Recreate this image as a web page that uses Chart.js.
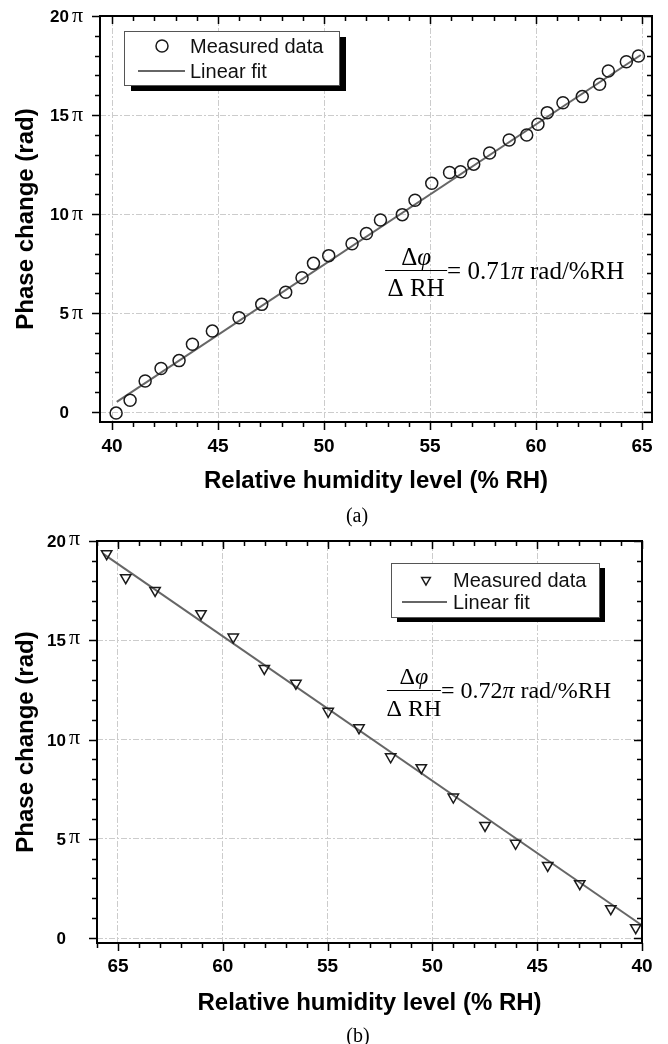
<!DOCTYPE html>
<html>
<head>
<meta charset="utf-8">
<script src="https://cdn.jsdelivr.net/npm/chart.js@4.4.1/dist/chart.umd.min.js"></script>
<style>
    body { margin: 0; background: #fff; }
    #page { position: relative; width: 668px; height: 1044px; background: #fff; }
    canvas { position: absolute; left: 0; }
    .cap { position: absolute; width: 100px; text-align: center; line-height: 24px;
           font-family: 'Liberation Serif', 'Times New Roman', serif; font-size: 20px; color: #000; }
</style>
</head>
<body>
<div id="page">
    <canvas id="chartA" width="668" height="530" style="top:0"></canvas>
    <div class="cap" style="left:307px; top:503px">(a)</div>
    <canvas id="chartB" width="668" height="514" style="top:530px"></canvas>
    <div class="cap" style="left:308px; top:1023px">(b)</div>
</div>
<script>
// (a) humidity going up
var rhA = [40.19, 40.85, 41.56, 42.31, 43.16, 43.79, 44.73, 45.99, 47.06, 48.19, 48.96,
           49.50, 50.22, 51.32, 52.00, 52.66, 53.69, 54.29, 55.08, 55.92, 56.44, 57.06,
           57.81, 58.73, 59.56, 60.09, 60.53, 61.27, 62.18, 63.00, 63.41, 64.26, 64.83];
var phaseA = [-0.05, 0.60, 1.57, 2.20, 2.60, 3.43, 4.09, 4.76, 5.44, 6.05, 6.78,
              7.51, 7.90, 8.50, 9.02, 9.70, 9.97, 10.70, 11.55, 12.10, 12.14, 12.52,
              13.08, 13.74, 13.99, 14.53, 15.12, 15.62, 15.93, 16.55, 17.22, 17.69, 17.98];
var fitRhA = [40.22, 64.94];
var fitPhaseA = [0.52, 18.03];
var slopeA = '0.71';

// (b) humidity going down
var rhB = [65.54, 64.63, 63.23, 61.04, 59.50, 58.02, 56.51, 54.97, 53.50,
           51.99, 50.53, 49.00, 47.49, 46.03, 44.50, 42.97, 41.49, 40.30];
var phaseB = [19.36, 18.15, 17.51, 16.34, 15.16, 13.58, 12.83, 11.42, 10.59,
              9.13, 8.58, 7.10, 5.67, 4.77, 3.66, 2.74, 1.48, 0.52];
var fitRhB = [65.70, 40.06];
var fitPhaseB = [19.35, 0.68];
var slopeB = '0.72';

var majorX = [40, 45, 50, 55, 60, 65];
var majorY = [0, 5, 10, 15, 20];   // in units of pi

var SANS = "'Liberation Sans', Arial, sans-serif";
var SERIF = "'Liberation Serif', 'Times New Roman', serif";

function toPoints(xs, ys) {
    return xs.map(function (v, i) { return { x: v, y: ys[i] }; });
}

function drawRuns(ctx, runs, x, y, align) {
    var total = 0;
    runs.forEach(function (r) { ctx.font = r[1]; total += ctx.measureText(r[0]).width; });
    var cx = align === 'center' ? x - total / 2 : x;
    ctx.textAlign = 'left';
    runs.forEach(function (r) {
        ctx.font = r[1];
        ctx.fillText(r[0], cx, y);
        cx += ctx.measureText(r[0]).width;
    });
}

// frame, minor ticks, pi tick labels, shadow legend and the slope formula
var decorPlugin = {
    id: 'decor',
    afterDatasetsDraw: function (chart, args, opts) {
        var ctx = chart.ctx, a = chart.chartArea;
        var x = chart.scales.x, y = chart.scales.y;
        ctx.save();

        ctx.strokeStyle = '#000';
        ctx.lineWidth = 1.5;
        ctx.beginPath();
        for (var v = Math.ceil(x.min); v <= x.max; v++) {
            var px = Math.round(x.getPixelForValue(v)) + 0.5;
            var len = v % 5 === 0 ? 8 : 5;
            ctx.moveTo(px, a.bottom); ctx.lineTo(px, a.bottom + len);
            ctx.moveTo(px, a.top); ctx.lineTo(px, a.top + len);
        }
        for (var w = Math.ceil(y.min); w <= y.max; w++) {
            var py = Math.round(y.getPixelForValue(w)) + 0.5;
            var l2 = w % 5 === 0 ? 8 : 5;
            ctx.moveTo(a.left, py); ctx.lineTo(a.left - l2, py);
            ctx.moveTo(a.right, py); ctx.lineTo(a.right - l2, py);
        }
        ctx.stroke();
        ctx.lineWidth = 2;
        ctx.strokeRect(a.left, a.top, a.right - a.left, a.bottom - a.top);

        // y labels: bold number + serif pi
        ctx.fillStyle = '#000';
        ctx.textBaseline = 'alphabetic';
        majorY.forEach(function (v) {
            var py = y.getPixelForValue(v) + 6;
            ctx.font = 'bold 17px ' + SANS;
            ctx.textAlign = 'right';
            ctx.fillText(String(v), a.left - 31, py);
            if (v !== 0) {
                ctx.font = '22px ' + SERIF;
                ctx.textAlign = 'left';
                ctx.fillText('\u03C0', a.left - 28, py - opts.piRaise);
            }
        });

        // legend box with black shadow
        var L = opts.legend;
        var bx = a.left + L.x, by = a.top + L.y;
        ctx.fillStyle = '#000';
        ctx.fillRect(bx + L.shadow[0], by + L.shadow[1], L.w, L.h);
        ctx.fillStyle = '#fff';
        ctx.fillRect(bx, by, L.w, L.h);
        ctx.strokeStyle = '#555';
        ctx.lineWidth = 1;
        ctx.strokeRect(bx + 0.5, by + 0.5, L.w, L.h);

        var ds0 = chart.data.datasets[0], ds1 = chart.data.datasets[1];
        ctx.strokeStyle = ds0.borderColor;
        ctx.fillStyle = 'rgba(0,0,0,0)';
        ctx.lineWidth = ds0.borderWidth;
        Chart.helpers.drawPoint(ctx, {
            pointStyle: ds0.pointStyle, rotation: ds0.pointRotation || 0,
            radius: L.markerSize, borderWidth: ds0.borderWidth
        }, bx + L.marker, by + L.row1);
        ctx.strokeStyle = ds1.borderColor;
        ctx.lineWidth = ds1.borderWidth;
        ctx.beginPath();
        ctx.moveTo(bx + L.line[0], by + L.row2);
        ctx.lineTo(bx + L.line[1], by + L.row2);
        ctx.stroke();
        ctx.fillStyle = '#111';
        ctx.font = '20px ' + SANS;
        ctx.textAlign = 'left';
        ctx.textBaseline = 'middle';
        ctx.fillText(ds0.label, bx + L.text, by + L.row1 + 1);
        ctx.fillText(ds1.label, bx + L.text, by + L.row2 + 1);

        // d(phi)/d(RH) = slope
        var F = opts.formula;
        var fx = x.getPixelForValue(F.x), fy = Math.round(y.getPixelForValue(F.y)) + 0.5;
        var up = F.size + 'px ' + SERIF, it = 'italic ' + F.size + 'px ' + SERIF;
        ctx.strokeStyle = '#000';
        ctx.lineWidth = 1.2;
        ctx.beginPath();
        ctx.moveTo(fx, fy); ctx.lineTo(fx + F.bar, fy);
        ctx.stroke();
        ctx.fillStyle = '#000';
        ctx.textBaseline = 'alphabetic';
        drawRuns(ctx, [['\u0394', up], ['\u03C6', it]], fx + F.bar / 2, fy - F.num, 'center');
        drawRuns(ctx, [['\u0394 RH', up]], fx + F.bar / 2, fy + F.den, 'center');
        drawRuns(ctx, [['= ' + F.value, up], ['\u03C0', it], [' rad/%RH', up]], fx + F.bar, fy + F.main, 'left');

        ctx.restore();
    }
};

function makeChart(id, c) {
    var ctx = document.getElementById(id).getContext('2d');
    return new Chart(ctx, {
        type: 'scatter',
        data: {
            datasets: [{
                label: 'Measured data',
                data: toPoints(c.xs, c.ys),
                pointStyle: c.pointStyle,
                pointRotation: c.rotation,
                pointRadius: c.radius,
                pointHoverRadius: c.radius,
                borderColor: '#1a1a1a',
                borderWidth: 1.5,
                backgroundColor: 'rgba(0,0,0,0)'
            }, {
                type: 'line',
                label: 'Linear fit',
                data: toPoints(c.fitX, c.fitY),
                borderColor: '#666666',
                borderWidth: 2,
                pointRadius: 0,
                fill: false
            }]
        },
        options: {
            responsive: false,
            animation: false,
            layout: { padding: c.padding },
            plugins: {
                legend: { display: false },
                tooltip: { enabled: false },
                decor: c.decor
            },
            scales: {
                x: {
                    type: 'linear',
                    min: c.xMin, max: c.xMax, reverse: c.reverse,
                    afterBuildTicks: function (s) { s.ticks = majorX.map(function (v) { return { value: v }; }); },
                    afterFit: function (s) { s.height = c.xHeight; },
                    ticks: {
                        padding: c.xTickPad, color: '#000',
                        font: { family: SANS, size: 19, weight: 'bold' },
                        callback: function (v) { return String(v); }
                    },
                    grid: { color: '#cccccc', lineWidth: 1, drawTicks: false },
                    border: { display: false, dash: [6, 2, 2, 2] },
                    title: {
                        display: true, text: 'Relative humidity level (% RH)', color: '#000',
                        font: { family: SANS, size: 24, weight: 'bold' },
                        padding: { top: 0, bottom: c.xTitlePad }
                    }
                },
                y: {
                    type: 'linear',
                    min: c.yMin, max: 20,
                    afterBuildTicks: function (s) { s.ticks = majorY.map(function (v) { return { value: v }; }); },
                    afterFit: function (s) { s.width = c.yWidth; },
                    ticks: { display: false },
                    grid: { color: '#cccccc', lineWidth: 1, drawTicks: false },
                    border: { display: false, dash: [6, 2, 2, 2] },
                    title: {
                        display: true, text: 'Phase change (rad)', color: '#000',
                        font: { family: SANS, size: 24, weight: 'bold' },
                        padding: { top: 12, bottom: 0 }
                    }
                }
            }
        },
        plugins: [decorPlugin]
    });
}

var chartA = makeChart('chartA', {
    xs: rhA, ys: phaseA, fitX: fitRhA, fitY: fitPhaseA,
    pointStyle: 'circle', rotation: 0, radius: 6,
    xMin: 39.43, xMax: 65.47, reverse: false, yMin: -0.5,
    padding: { top: 16, right: 16, bottom: 28, left: 0 },
    xHeight: 80, yWidth: 100, xTickPad: 13, xTitlePad: 6,
    decor: {
        piRaise: 0,
        legend: { x: 24, y: 15, w: 215, h: 54, shadow: [7, 6], marker: 38, markerSize: 6, text: 66, line: [14, 61], row1: 15, row2: 40 },
        formula: { x: 52.88, y: 7.17, bar: 62, size: 25, num: 6, den: 25, main: 8, value: slopeA }
    }
});

var chartB = makeChart('chartB', {
    xs: rhB, ys: phaseB, fitX: fitRhB, fitY: fitPhaseB,
    pointStyle: 'triangle', rotation: 180, radius: 6,
    xMin: 40, xMax: 66, reverse: true, yMin: -0.25,
    padding: { top: 11, right: 26, bottom: 26, left: 0 },
    xHeight: 75, yWidth: 97, xTickPad: 12, xTitlePad: 0,
    decor: {
        piRaise: 2,
        legend: { x: 294, y: 22, w: 208, h: 54, shadow: [6, 5], marker: 35, markerSize: 5, text: 62, line: [11, 56], row1: 17, row2: 39 },
        formula: { x: 52.17, y: 12.49, bar: 54, size: 24, num: 7, den: 25, main: 7, value: slopeB }
    }
});
</script>
</body>
</html>
